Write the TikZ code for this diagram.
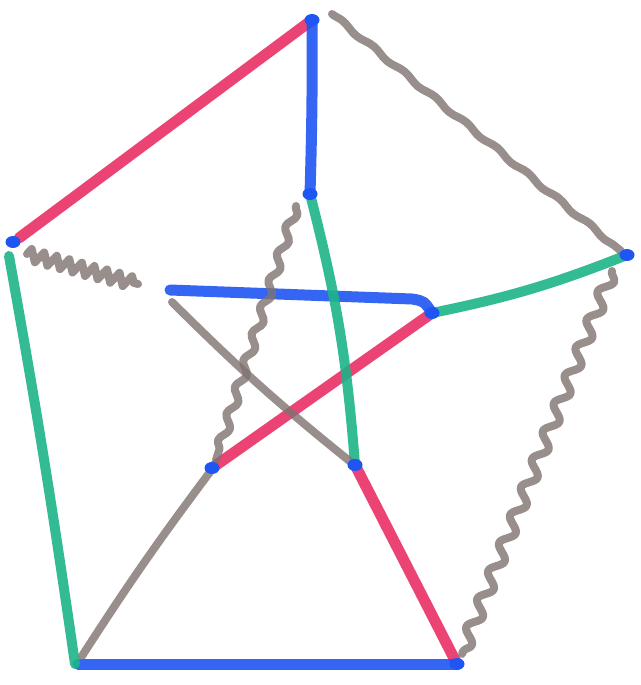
\documentclass[tikz,border=0pt]{standalone}
\usepackage{tikz}
\usetikzlibrary{decorations.pathmorphing,shapes.geometric}
\definecolor{crayred}{HTML}{EA2F66}
\definecolor{crayblue}{HTML}{1F55F2}
\definecolor{craygreen}{HTML}{1DB488}
\definecolor{craygrey}{HTML}{7E7371}
\begin{document}
\begin{tikzpicture}[x=1pt,y=-1pt,line cap=round,line join=round,
    redge/.style={line width=11pt,crayred,opacity=0.9},
    bedge/.style={line width=11pt,crayblue,opacity=0.9},
    gedge/.style={line width=10pt,craygreen,opacity=0.9},
    kedge/.style={line width=8pt,craygrey,opacity=0.8},
    vdot/.style={fill=crayblue,ellipse,inner sep=0pt,minimum width=15pt,minimum height=12pt}]
    \useasboundingbox (0,0) rectangle (640,685);
    % outer ring
    \coordinate (top) at (312,20);
    \coordinate (right) at (627,255);
    \coordinate (bright) at (457,664);
    \coordinate (bleft) at (78,664);
    \coordinate (left) at (13,242);
    % inner star
    \coordinate (itop) at (310,194);
    \coordinate (iright) at (432,313);
    \coordinate (ibright) at (355,465);
    \coordinate (ibleft) at (212,468);
    \coordinate (ileft) at (170,290);
    % coloured edges
    \draw[redge] ([shift={(6,-4)}]left) -- (top);
    \draw[bedge] (top) to[bend left=1] (itop);
    \draw[gedge] (right) to[bend left=5] (iright);
    \draw[bedge] (iright) .. controls ([shift={(-8,-12)}]iright) .. ([shift={(-20,-14)}]iright) -- (ileft);
    \draw[redge] (iright) -- (ibleft);
    \draw[gedge] (itop) to[bend left=5] (ibright);
    \draw[redge] (ibright) -- (bright);
    \draw[bedge] (bleft) -- (bright);
    \draw[gedge] ([shift={(-4,14)}]left) to[bend left=1] ([xshift=-3pt]bleft);
    % grey edges
    \draw[kedge,decorate,decoration={snake,amplitude=1.5pt,segment length=40pt}]
        ([shift={(20,-6)}]top) -- ([shift={(-6,-4)}]right);
    \draw[kedge,decorate,decoration={snake,amplitude=6pt,segment length=30pt}]
        ([shift={(-15,16)}]right) -- ([shift={(5,-10)}]bright);
    \draw[kedge,decorate,decoration={zigzag,amplitude=6pt,segment length=13pt}]
        ([shift={(14,12)}]left) -- ([shift={(-32,-6)}]ileft);
    \draw[kedge,decorate,decoration={snake,amplitude=4pt,segment length=28pt}]
        ([shift={(-14,12)}]itop) -- ([shift={(4,-8)}]ibleft);
    \draw[kedge] ([shift={(2,12)}]ileft) to[bend right=3] ([shift={(-3,-2)}]ibright);
    \draw[kedge] ([shift={(4,-8)}]bleft) to[bend left=2] ([shift={(-2,4)}]ibleft);
    % vertex dots
    \foreach \v in {top,right,bright,left,itop,iright,ibright,ibleft}
        \node[vdot] (dot-\v) at (\v) {};
\end{tikzpicture}
\end{document}
